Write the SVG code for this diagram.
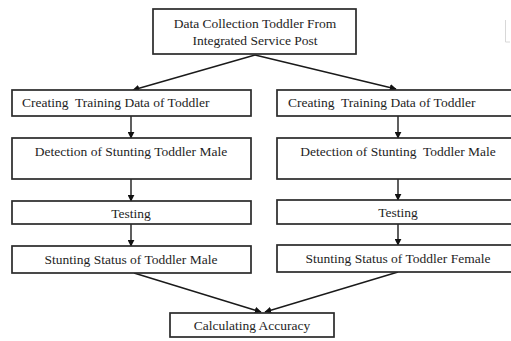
<svg xmlns="http://www.w3.org/2000/svg" width="511" height="341" viewBox="0 0 511 341">
  <style>
    .box { fill: #ffffff; stroke: #2a2a2a; stroke-width: 1.7; }
    .lbl { font-family: "Liberation Serif", "Times New Roman", serif; font-size: 13.5px; fill: #1e1e1e; }
    .mid { text-anchor: middle; }
    .edge { fill: none; stroke: #1a1a1a; stroke-width: 1.4; marker-end: url(#arrow); }
  </style>
  <defs>
    <marker id="arrow" viewBox="0 0 10 10" refX="9" refY="5" markerWidth="7" markerHeight="7" markerUnits="userSpaceOnUse" orient="auto">
      <path d="M0,0 L10,5 L0,10 z" fill="#111111"/>
    </marker>
  </defs>
  <rect width="511" height="341" fill="#ffffff"/>

  <!-- small bracket mark at top right -->
  <path d="M505.5,20 V42 H510" fill="none" stroke="#d8d8d8" stroke-width="1"/>

  <g id="connectors">
    <line class="edge" x1="255" y1="55" x2="133" y2="90"/>
    <line class="edge" x1="255" y1="55" x2="396" y2="89"/>
    <line class="edge" x1="131" y1="116" x2="131" y2="138"/>
    <line class="edge" x1="398" y1="116" x2="398" y2="138"/>
    <line class="edge" x1="131" y1="179" x2="131" y2="201"/>
    <line class="edge" x1="398" y1="179" x2="398" y2="200"/>
    <line class="edge" x1="131" y1="224" x2="131" y2="246"/>
    <line class="edge" x1="398" y1="224" x2="398" y2="245"/>
    <line class="edge" x1="134" y1="273" x2="261" y2="312"/>
    <line class="edge" x1="398" y1="272" x2="265" y2="312"/>
  </g>

  <g id="data-collection">
    <rect class="box" x="153" y="9" width="203" height="45"/>
    <text class="lbl mid" x="255" y="28">Data Collection Toddler From</text>
    <text class="lbl mid" x="255" y="45">Integrated Service Post</text>
  </g>

  <g id="training-left">
    <rect class="box" x="12" y="90" width="239" height="26"/>
    <text class="lbl" x="22" y="107" xml:space="preserve">Creating  Training Data of Toddler</text>
  </g>
  <g id="training-right">
    <rect class="box" x="277" y="90" width="242" height="26"/>
    <text class="lbl" x="288" y="107" xml:space="preserve">Creating  Training Data of Toddler</text>
  </g>

  <g id="detection-left">
    <rect class="box" x="12" y="138" width="239" height="41"/>
    <text class="lbl mid" x="131" y="156">Detection of Stunting Toddler Male</text>
  </g>
  <g id="detection-right">
    <rect class="box" x="277" y="138" width="242" height="41"/>
    <text class="lbl mid" x="398" y="156" xml:space="preserve">Detection of Stunting  Toddler Male</text>
  </g>

  <g id="testing-left">
    <rect class="box" x="12" y="201" width="239" height="23"/>
    <text class="lbl mid" x="131" y="218">Testing</text>
  </g>
  <g id="testing-right">
    <rect class="box" x="277" y="200" width="242" height="24"/>
    <text class="lbl mid" x="398" y="217">Testing</text>
  </g>

  <g id="status-male">
    <rect class="box" x="12" y="246" width="239" height="27"/>
    <text class="lbl mid" x="131" y="264">Stunting Status of Toddler Male</text>
  </g>
  <g id="status-female">
    <rect class="box" x="277" y="245" width="242" height="27"/>
    <text class="lbl mid" x="398" y="263">Stunting Status of Toddler Female</text>
  </g>

  <g id="accuracy">
    <rect class="box" x="170" y="313" width="164" height="24"/>
    <text class="lbl mid" x="252" y="330">Calculating Accuracy</text>
  </g>
</svg>
